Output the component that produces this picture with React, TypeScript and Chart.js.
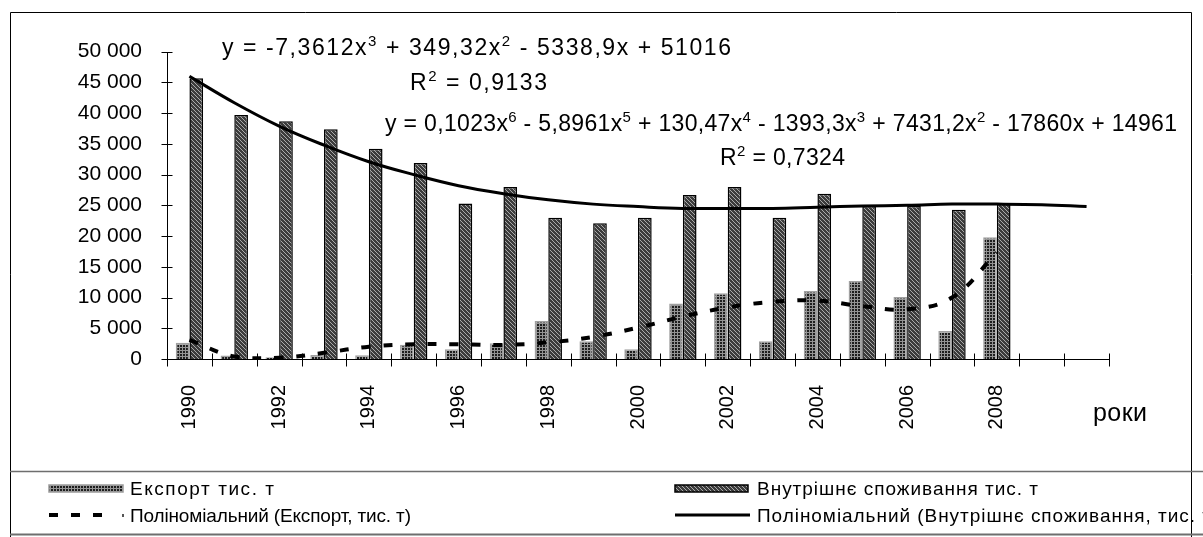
import React, { useEffect, useRef } from 'react';
import { Chart, registerables } from 'chart.js';

Chart.register(...registerables);

const FAMILY = "'Liberation Sans', Arial, sans-serif";

// ---- data ----
const years = ['1990', '1991', '1992', '1993', '1994', '1995', '1996', '1997', '1998', '1999', '2000', '2001', '2002', '2003', '2004', '2005', '2006', '2007', '2008', '', ''];
const exportValues = [2650, 550, 300, 650, 600, 2300, 1600, 2550, 6200, 2900, 1600, 9050, 10700, 2900, 11050, 12700, 10100, 4550, 19800];
const domesticValues = [45700, 39700, 38700, 37400, 34200, 31900, 25300, 28000, 23000, 22100, 23000, 26700, 28000, 23000, 26900, 24900, 24900, 24300, 25300];
const exportTrend = [3100, 400, 200, 1000, 2000, 2400, 2400, 2300, 2700, 3600, 5100, 6900, 8400, 9300, 9500, 8600, 8100, 10000, 17300];
const domesticTrend = [46000, 41700, 37900, 34800, 32100, 30000, 28200, 26900, 25900, 25200, 24800, 24500, 24500, 24500, 24700, 24900, 25000, 25200, 25200, 25100, 24800];
const yMin = 0;
const yMax = 50000;
const yStep = 5000;

const exportLabel = 'Експорт тис. т';
const domesticLabel = 'Внутрішнє споживання тис. т';
const exportTrendLabel = 'Поліноміальний (Експорт, тис. т)';
const domesticTrendLabel = 'Поліноміальний (Внутрішнє споживання, тис. т)';
const axisTitle = 'роки';

type Seg = { t: string; sup?: boolean };
const eqDomestic: Seg[] = [
  { t: 'y = -7,3612x' }, { t: '3', sup: true }, { t: ' + 349,32x' }, { t: '2', sup: true }, { t: ' - 5338,9x + 51016' },
];
const r2Domestic: Seg[] = [{ t: 'R' }, { t: '2', sup: true }, { t: ' = 0,9133' }];
const eqExport: Seg[] = [
  { t: 'y = 0,1023x' }, { t: '6', sup: true }, { t: ' - 5,8961x' }, { t: '5', sup: true }, { t: ' + 130,47x' }, { t: '4', sup: true },
  { t: ' - 1393,3x' }, { t: '3', sup: true }, { t: ' + 7431,2x' }, { t: '2', sup: true }, { t: ' - 17860x + 14961' },
];
const r2Export: Seg[] = [{ t: 'R' }, { t: '2', sup: true }, { t: ' = 0,7324' }];

function segFont(s: Seg, size: number) {
  return `${s.sup ? Math.round(size * 0.64) : size}px ${FAMILY}`;
}

function spacingFor(ctx: CanvasRenderingContext2D, segs: Seg[], size: number, target: number) {
  let natural = 0;
  let count = 0;
  (ctx as any).letterSpacing = '0px';
  for (const s of segs) {
    ctx.font = segFont(s, size);
    natural += ctx.measureText(s.t).width;
    count += Array.from(s.t).length;
  }
  return (target - natural) / Math.max(1, count - 1);
}

function drawSegs(ctx: CanvasRenderingContext2D, segs: Seg[], x: number, y: number, size: number, ls: number) {
  let cx = x;
  ctx.textAlign = 'left';
  ctx.textBaseline = 'alphabetic';
  for (const s of segs) {
    ctx.font = segFont(s, size);
    (ctx as any).letterSpacing = '0px';
    const w = ctx.measureText(s.t).width;
    (ctx as any).letterSpacing = `${ls}px`;
    ctx.fillText(s.t, cx, s.sup ? y - size * 0.38 : y);
    cx += w + ls * Array.from(s.t).length;
  }
  (ctx as any).letterSpacing = '0px';
}

function drawFitted(ctx: CanvasRenderingContext2D, segs: Seg[], x: number, y: number, size: number, target: number, fitSegs?: Seg[]) {
  const ls = spacingFor(ctx, fitSegs || segs, size, target);
  drawSegs(ctx, segs, x, y, size, ls);
}

function makePattern(ctx: CanvasRenderingContext2D, kind: 'hatch' | 'dots') {
  const c = document.createElement('canvas');
  const g = c.getContext('2d')!;
  if (kind === 'hatch') {
    c.width = 4; c.height = 4;
    g.fillStyle = '#3c3c3c';
    g.fillRect(0, 0, 4, 4);
    g.fillStyle = '#aaaaaa';
    for (let i = 0; i < 4; i++) g.fillRect(i, i, 1, 1);
  } else {
    c.width = 3; c.height = 3;
    g.fillStyle = '#949494';
    g.fillRect(0, 0, 3, 3);
    g.fillStyle = '#1e1e1e';
    g.fillRect(0, 0, 2, 2);
  }
  return ctx.createPattern(c, 'repeat')!;
}

function fmt(v: number) {
  if (v === 0) return '0';
  return `${Math.round(v / 1000)} 000`;
}

export default function App() {
  const ref = useRef<HTMLCanvasElement | null>(null);

  useEffect(() => {
    const canvas = ref.current!;
    const ctx0 = canvas.getContext('2d')!;
    const hatch = makePattern(ctx0, 'hatch');
    const dots = makePattern(ctx0, 'dots');
    Chart.defaults.font.family = FAMILY;

    const decor = {
      id: 'decor',
      afterDatasetsDraw(chart: any) {
        const ctx: CanvasRenderingContext2D = chart.ctx;
        const x = chart.scales.x;
        const y = chart.scales.y;
        const a = chart.chartArea;
        ctx.save();
        ctx.strokeStyle = '#000';
        ctx.lineWidth = 1;
        const ax = Math.round(a.left) + 0.5;
        const ay = Math.round(a.bottom) + 0.5;
        ctx.beginPath();
        ctx.moveTo(ax, Math.round(a.top));
        ctx.lineTo(ax, ay);
        ctx.lineTo(Math.round(a.right), ay);
        ctx.stroke();
        for (let v = yMin; v <= yMax; v += yStep) {
          const py = Math.round(y.getPixelForValue(v)) + 0.5;
          ctx.beginPath();
          ctx.moveTo(ax - 6, py);
          ctx.lineTo(ax + 5, py);
          ctx.stroke();
        }
        const n = years.length;
        const half = (x.getPixelForValue(1) - x.getPixelForValue(0)) / 2;
        for (let i = 0; i <= n; i++) {
          const px = Math.round(i < n ? x.getPixelForValue(i) - half : x.getPixelForValue(n - 1) + half) + 0.5;
          ctx.beginPath();
          ctx.moveTo(px, ay - 6);
          ctx.lineTo(px, ay + 7);
          ctx.stroke();
        }
        ctx.restore();
      },
      afterDraw(chart: any) {
        const ctx: CanvasRenderingContext2D = chart.ctx;
        const ds = chart.data.datasets;
        ctx.save();
        ctx.fillStyle = '#000';

        drawFitted(ctx, eqDomestic, 222, 55, 23, 509);
        drawFitted(ctx, r2Domestic, 410, 90, 23, 137);
        drawFitted(ctx, eqExport, 385, 131, 23, 792);
        drawFitted(ctx, r2Export, 720, 165, 23, 125);

        drawFitted(ctx, [{ t: axisTitle }], 1093, 421, 25, 54);

        const lx1 = 49, lx2 = 675, tx1 = 130, tx2 = 757, r1 = 488, r2 = 515;
        ctx.fillStyle = ds[2].backgroundColor;
        ctx.fillRect(lx1, r1 - 3, 74, 7);
        ctx.strokeStyle = '#9a9a9a';
        ctx.lineWidth = 1.5;
        ctx.strokeRect(lx1, r1 - 3, 74, 7);
        ctx.fillStyle = ds[3].backgroundColor;
        ctx.fillRect(lx2, r1 - 3, 73, 7);
        ctx.strokeStyle = '#000';
        ctx.strokeRect(lx2, r1 - 3, 73, 7);
        ctx.strokeStyle = '#000';
        ctx.lineWidth = 4;
        ctx.setLineDash([9, 13]);
        ctx.beginPath();
        ctx.moveTo(lx1, r2);
        ctx.lineTo(lx1 + 54, r2);
        ctx.stroke();
        ctx.setLineDash([]);
        ctx.fillStyle = '#555';
        ctx.fillRect(lx1 + 73, r2 - 1, 2, 3);
        ctx.lineWidth = 3;
        ctx.beginPath();
        ctx.moveTo(lx2, r2);
        ctx.lineTo(lx2 + 75, r2);
        ctx.stroke();

        ctx.fillStyle = '#000';
        const ls = 19;
        drawFitted(ctx, [{ t: ds[2].label }], tx1, r1 + 7, ls, 144);
        drawFitted(ctx, [{ t: ds[3].label }], tx2, r1 + 7, ls, 281);
        drawFitted(ctx, [{ t: ds[1].label }], tx1, r2 + 7, ls, 281);
        drawFitted(ctx, [{ t: ds[0].label }], tx2, r2 + 7, ls, 438, [{ t: 'Поліноміальний (Внутрішнє споживання, тис.' }]);

        ctx.strokeStyle = '#000';
        ctx.lineWidth = 1;
        ctx.beginPath();
        ctx.moveTo(10.5, 537);
        ctx.lineTo(10.5, 12.5);
        ctx.lineTo(1191.5, 12.5);
        ctx.lineTo(1191.5, 537);
        ctx.stroke();
        ctx.strokeStyle = '#6e6e6e';
        ctx.lineWidth = 1.5;
        ctx.beginPath();
        ctx.moveTo(10, 471.5);
        ctx.lineTo(1203, 471.5);
        ctx.stroke();
        ctx.lineWidth = 2;
        ctx.beginPath();
        ctx.moveTo(10, 534.5);
        ctx.lineTo(1203, 534.5);
        ctx.stroke();
        ctx.restore();
      },
    };

    const chart = new Chart(canvas, {
      type: 'bar',
      data: {
        labels: years,
        datasets: [
          {
            type: 'line',
            label: domesticTrendLabel,
            data: domesticTrend,
            borderColor: '#000',
            borderWidth: 3,
            pointRadius: 0,
            tension: 0.4,
            fill: false,
            order: 0,
          } as any,
          {
            type: 'line',
            label: exportTrendLabel,
            data: exportTrend,
            borderColor: '#000',
            borderWidth: 4,
            borderDash: [9, 13],
            pointRadius: 0,
            tension: 0.4,
            fill: false,
            order: 0,
          } as any,
          {
            type: 'bar',
            label: exportLabel,
            data: exportValues,
            backgroundColor: dots,
            borderColor: '#a0a0a0',
            borderWidth: 1.5,
            categoryPercentage: 0.61,
            barPercentage: 1,
            order: 1,
          } as any,
          {
            type: 'bar',
            label: domesticLabel,
            data: domesticValues,
            backgroundColor: hatch,
            borderColor: '#000',
            borderWidth: 1.5,
            categoryPercentage: 0.61,
            barPercentage: 1,
            order: 1,
          } as any,
        ],
      },
      options: {
        responsive: false,
        animation: false,
        layout: { padding: { top: 51.7, right: 94, left: 0, bottom: 0 } },
        plugins: { legend: { display: false }, tooltip: { enabled: false } },
        scales: {
          x: {
            grid: { display: false },
            border: { display: false },
            ticks: {
              autoSkip: false,
              minRotation: 90,
              maxRotation: 90,
              padding: 18,
              color: '#000',
              font: { size: 20, family: FAMILY },
              callback: (_v: any, i: number) => (i % 2 === 0 ? years[i] : ''),
            },
            afterFit: (s: any) => { s.height = 178; },
          },
          y: {
            min: yMin,
            max: yMax,
            grid: { display: false },
            border: { display: false },
            ticks: {
              stepSize: yStep,
              padding: 17,
              color: '#000',
              font: { size: 21, family: FAMILY },
              callback: (v: any) => fmt(Number(v)),
            },
            afterFit: (s: any) => { s.width = 167; },
          },
        },
      } as any,
      plugins: [decor],
    });
    return () => chart.destroy();
  }, []);

  return (
    <div style={{ position: 'absolute', left: 0, top: 0, width: 1203, height: 537, background: '#fff' }}>
      <canvas ref={ref} width={1203} height={537} style={{ display: 'block', width: 1203, height: 537 }} />
    </div>
  );
}
